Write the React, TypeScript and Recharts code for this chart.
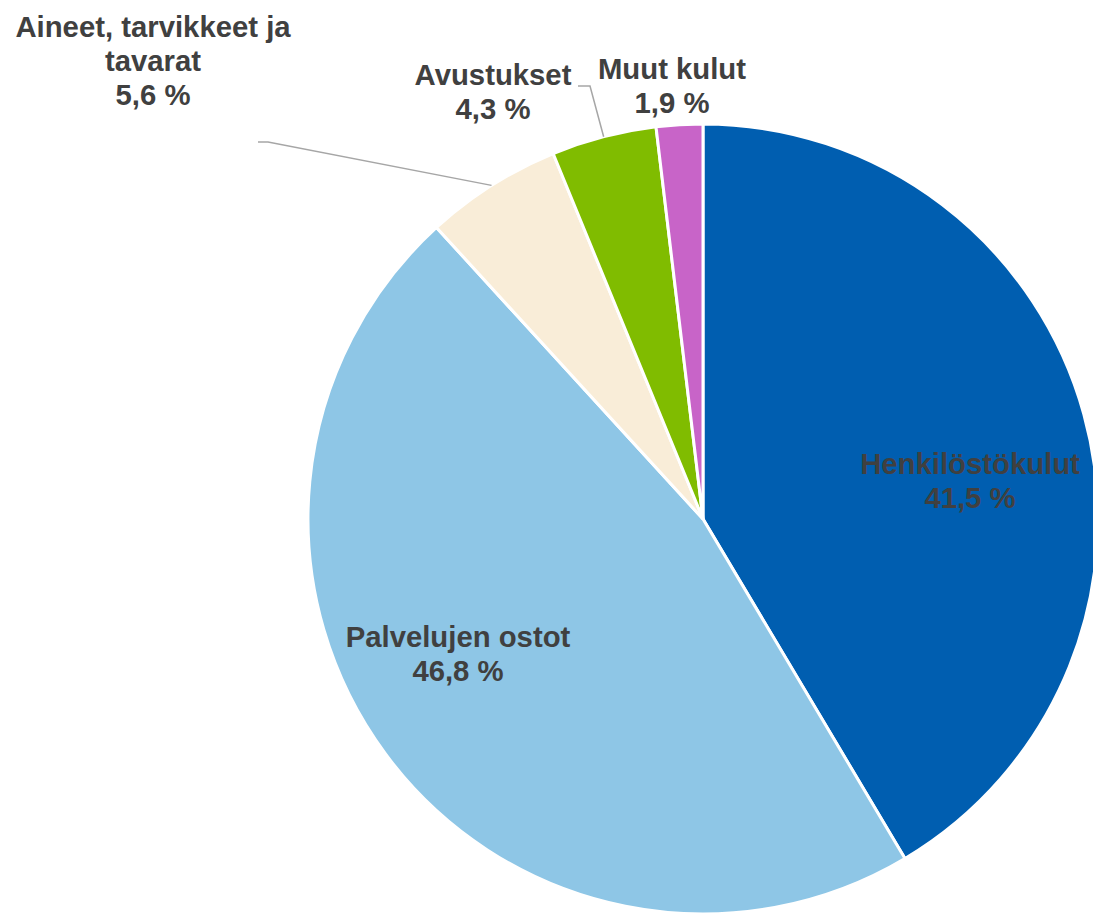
import { PieChart, Pie, Cell } from "recharts";

const categories = [
  "Henkilöstökulut",
  "Palvelujen ostot",
  "Aineet, tarvikkeet ja tavarat",
  "Avustukset",
  "Muut kulut",
];
const shares = [41.5, 46.8, 5.6, 4.3, 1.9];
const colors = ["#005EB0", "#8EC6E6", "#F9EDD8", "#80BC00", "#C864C8"];

// label text lines per slice (category may wrap)
const labelLines = [
  ["Henkilöstökulut"],
  ["Palvelujen ostot"],
  ["Aineet, tarvikkeet ja", "tavarat"],
  ["Avustukset"],
  ["Muut kulut"],
];

const data = categories.map((name, i) => ({ name, value: shares[i] }));

// label centre offsets from the pie centre, and leader elbows (null = no leader)
const labelPos = [
  { dx: 267, dy: -39, leader: null },
  { dx: -245, dy: 134, leader: null },
  { dx: -550, dy: -459, leader: [[-435, -377], [-445, -377]] },
  { dx: -210, dy: -428, leader: [[-113, -433], [-125, -433]] },
  { dx: -31, dy: -434, leader: null },
];

const RAD = Math.PI / 180;
const FONT = 29.3;
const LH = 34;

const fmt = (v: number) => `${v.toFixed(1).replace(".", ",")} %`;

function renderLabel(props: any) {
  const { cx, cy, midAngle, outerRadius, index } = props;
  const pos = labelPos[index];
  const lines = [...labelLines[index], fmt(shares[index])];
  const x = cx + pos.dx;
  const y = cy + pos.dy;
  let leader = null;
  if (pos.leader) {
    const sx = cx + outerRadius * Math.cos(-midAngle * RAD);
    const sy = cy + outerRadius * Math.sin(-midAngle * RAD);
    const pts = [[sx, sy], ...pos.leader.map(([ex, ey]) => [cx + ex, cy + ey])];
    leader = (
      <polyline
        points={pts.map((p) => p.join(",")).join(" ")}
        fill="none"
        stroke="#A6A6A6"
        strokeWidth={1.5}
      />
    );
  }
  const first = -((lines.length - 1) / 2) * LH;
  return (
    <g key={`lbl-${index}`}>
      {leader}
      <text
        x={x}
        y={y}
        textAnchor="middle"
        dominantBaseline="central"
        fill="#404040"
        fontFamily="'Liberation Sans', Arial, sans-serif"
        fontWeight="bold"
        fontSize={FONT}
      >
        {lines.map((l, i) => (
          <tspan key={i} x={x} dy={i === 0 ? first : LH}>
            {l}
          </tspan>
        ))}
      </text>
    </g>
  );
}

export default function App() {
  return (
    <div style={{ width: 1093, height: 915, background: "#fff" }}>
      <style>{`body{margin:0;}`}</style>
      <PieChart width={1093} height={915} margin={{ top: 0, right: 0, bottom: 0, left: 0 }}>
        <Pie
          data={data}
          dataKey="value"
          nameKey="name"
          cx={703}
          cy={519}
          outerRadius={395}
          startAngle={90}
          endAngle={-270}
          stroke="#ffffff"
          strokeWidth={3}
          label={renderLabel}
          labelLine={false}
          isAnimationActive={false}
        >
          {data.map((d, i) => (
            <Cell key={d.name} fill={colors[i]} />
          ))}
        </Pie>
      </PieChart>
    </div>
  );
}
